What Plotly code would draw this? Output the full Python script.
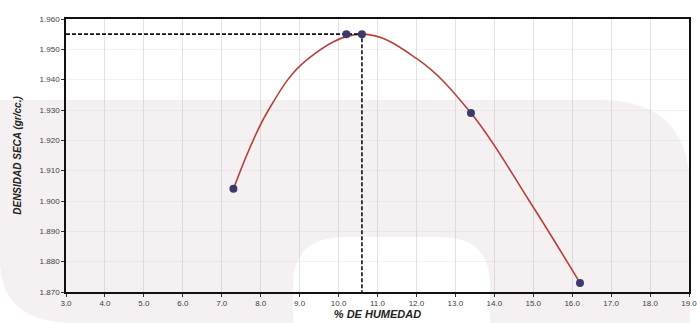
import plotly.graph_objects as go

# Data
humedad = [7.3, 10.2, 10.6, 13.4, 16.2]
densidad = [1.904, 1.955, 1.955, 1.929, 1.873]
humedad_optima = 10.6
densidad_maxima = 1.955
# fitted compaction curve
curva_x = [7.3, 8.2, 9.2, 10.6, 12.0, 13.4, 14.9, 16.2]
curva_y = [1.904, 1.930, 1.9467, 1.955, 1.947, 1.929, 1.900, 1.873]
x_ticks = [3.0, 4.0, 5.0, 6.0, 7.0, 8.0, 9.0, 10.0, 11.0, 12.0, 13.0, 14.0, 15.0, 16.0, 17.0, 18.0, 19.0]
y_ticks = [1.870, 1.880, 1.890, 1.900, 1.910, 1.920, 1.930, 1.940, 1.950, 1.960]

W, H = 697, 323
L, R, T, B = 66, 8, 19, 31
pw, ph = W - L - R, H - T - B


def px(x):
    return (x - L) / pw


def py(y):
    return (H - B - y) / ph


fig = go.Figure()

# curve
fig.add_trace(go.Scatter(
    x=curva_x, y=curva_y, mode="lines",
    line=dict(color="#b8403c", width=1.6, shape="spline", smoothing=1.1),
    hoverinfo="skip", showlegend=False))

# dashed guide lines to the maximum
fig.add_trace(go.Scatter(
    x=[x_ticks[0], humedad_optima, humedad_optima],
    y=[densidad_maxima, densidad_maxima, y_ticks[0]],
    mode="lines", line=dict(color="#111111", width=1.6, dash="4px,2px"),
    hoverinfo="skip", showlegend=False))

# points
fig.add_trace(go.Scatter(
    x=humedad, y=densidad, mode="markers",
    marker=dict(color="#3a3a6c", size=8),
    showlegend=False))

# faint scanned watermark shape
wm_path = (
    f"M {px(0)},{py(100)} L {px(600)},{py(100)} "
    f"Q {px(690)},{py(100)} {px(690)},{py(190)} "
    f"L {px(690)},{py(323)} L {px(490)},{py(323)} L {px(490)},{py(285)} "
    f"Q {px(490)},{py(237)} {px(440)},{py(237)} L {px(345)},{py(237)} "
    f"Q {px(293)},{py(237)} {px(293)},{py(285)} L {px(293)},{py(323)} "
    f"L {px(75)},{py(323)} Q {px(0)},{py(323)} {px(0)},{py(260)} Z"
)
fig.add_shape(type="path", path=wm_path, xref="paper", yref="paper",
              fillcolor="rgba(222,205,213,0.30)", line=dict(width=0), layer="below")

axis_font = dict(family="Arial, Liberation Sans, sans-serif", size=8, color="#404040")

fig.update_layout(
    width=W, height=H,
    margin=dict(l=L, r=R, t=T, b=B),
    paper_bgcolor="white", plot_bgcolor="rgba(0,0,0,0)",
    xaxis=dict(
        range=[3, 19], tickvals=x_ticks, ticktext=[f"{v:.1f}" for v in x_ticks],
        showgrid=True, gridcolor="rgba(190,190,190,0.45)", gridwidth=1,
        showline=True, linecolor="#111111", linewidth=1.5, mirror=True,
        ticks="outside", ticklen=3, tickcolor="#333333", tickfont=axis_font,
        ticklabeloverflow="allow",
        zeroline=False, automargin=False,
        title=dict(text="<b><i>% DE HUMEDAD</i></b>",
                   font=dict(family="Arial, Liberation Sans, sans-serif", size=11, color="#222222"),
                   standoff=2),
    ),
    yaxis=dict(
        range=[1.870, 1.960], tickvals=y_ticks, ticktext=[f"{v:.3f}" for v in y_ticks],
        showgrid=True, gridcolor="rgba(200,200,200,0.22)", gridwidth=1,
        showline=True, linecolor="#111111", linewidth=1.5, mirror=True,
        ticks="outside", ticklen=3, tickcolor="#333333", tickfont=axis_font,
        ticklabeloverflow="allow",
        zeroline=False, automargin=False,
        title=dict(text="<b><i>DENSIDAD SECA (gr/cc.)</i></b>",
                   font=dict(family="Arial, Liberation Sans, sans-serif", size=10, color="#222222"),
                   standoff=16),
    ),
)

fig.write_html("out.html", config={"displayModeBar": False},
               post_script="document.body.style.margin='0';document.body.style.overflow='hidden';")
